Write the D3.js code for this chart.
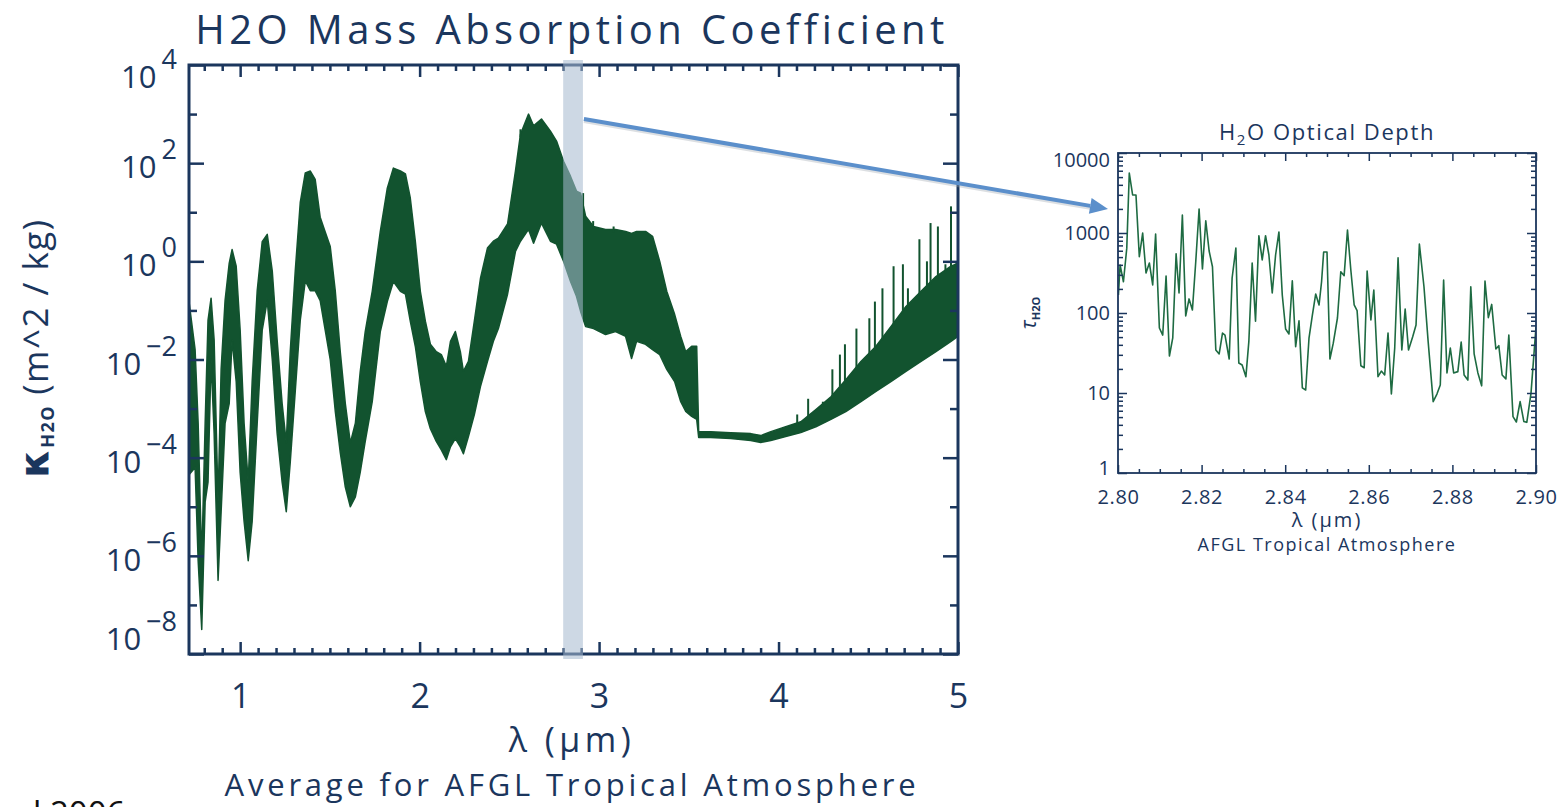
<!DOCTYPE html>
<html>
<head>
<meta charset="utf-8">
<script src="https://cdn.jsdelivr.net/npm/d3@7"></script>
<style>
  body { margin: 0; background: #fff; }
  svg { display: block; }
  text { font-family: "Open Sans", "DejaVu Sans", sans-serif; }
</style>
</head>
<body>
<svg id="chart" width="1566" height="807"></svg>
<script>
const kappaLambda = [0.715, 0.749, 0.766, 0.786, 0.805, 0.821, 0.838, 0.855, 0.877, 0.894, 0.916, 0.939, 0.955, 0.978,
  1.000, 1.022, 1.045, 1.067, 1.095, 1.123, 1.151, 1.179, 1.206, 1.234, 1.257, 1.279, 1.307, 1.335, 1.363, 1.391,
  1.418, 1.446, 1.474, 1.502, 1.530, 1.558, 1.586, 1.614, 1.642, 1.669, 1.697, 1.736, 1.781, 1.820, 1.854, 1.893,
  1.921, 1.948, 1.976, 2.004, 2.032, 2.060, 2.093, 2.121, 2.149, 2.172, 2.199, 2.227, 2.244, 2.272, 2.305, 2.339,
  2.378, 2.411, 2.439, 2.490, 2.534, 2.562, 2.607, 2.635, 2.679, 2.729, 2.763, 2.802, 2.841, 2.874, 2.897, 2.925,
  2.969, 3.036, 3.092, 3.148, 3.181, 3.209, 3.259, 3.298, 3.338, 3.377, 3.421, 3.455, 3.483, 3.516, 3.544, 3.555,
  3.622, 3.734, 3.845, 3.901, 3.957, 4.040, 4.124, 4.208, 4.292, 4.375, 4.459, 4.543, 4.626, 4.710, 4.794, 4.877,
  4.961, 5.000];
const kappaUpperExp = [-0.82, -1.8, -3.3, -6.1, -3.3, -1.2, -0.75, -1.6, -4.9, -2.2, -0.8, -0.04, 0.24, -0.1,
  -1.4, -3.3, -4.5, -2.45, -0.6, 0.4, 0.55, -0.2, -1.6, -2.9, -3.7, -1.85, -0.2, 1.2, 1.8, 1.84,
  1.67, 0.9, 0.6, 0.3, -0.6, -1.85, -2.9, -3.7, -3.3, -2.25, -1.43, -0.61, 0.61, 1.49, 1.9, 1.84,
  1.78, 1.29, 0.41, -0.61, -1.22, -1.69, -1.84, -1.9, -2.14, -1.63, -1.43, -1.84, -2.24, -2.04, -1.22, -0.35,
  0.27, 0.41, 0.47, 0.76, 1.84, 2.59, 3.0, 2.76, 2.9, 2.65, 2.45, 2.04, 1.73, 1.43, 1.39, 0.92,
  0.71, 0.65, 0.65, 0.61, 0.57, 0.61, 0.61, 0.51, 0.0, -0.61, -1.08, -1.53, -1.84, -1.73, -1.73, -3.47,
  -3.47, -3.49, -3.51, -3.55, -3.47, -3.37, -3.27, -3.02, -2.76, -2.41, -2.04, -1.73, -1.33, -0.92, -0.61, -0.31,
  -0.1, -0.04];
const kappaLowerExp = [-4.35, -4.2, -6.1, -7.5, -4.9, -4.5, -2.0, -3.5, -6.5, -5.1, -3.3, -2.9, -1.6, -2.45,
  -4.3, -5.3, -6.1, -5.3, -3.3, -1.4, -0.8, -2.0, -3.5, -4.5, -5.1, -4.1, -2.65, -1.2, -0.4, -0.6,
  -0.6, -0.8, -1.4, -2.0, -3.05, -3.9, -4.6, -5.0, -4.8, -4.3, -3.67, -2.86, -1.43, -0.82, -0.41, -0.61,
  -0.67, -1.22, -1.73, -2.45, -3.06, -3.41, -3.67, -3.84, -4.04, -3.78, -3.61, -3.78, -3.92, -3.57, -3.12, -2.55,
  -2.04, -1.63, -1.37, -0.67, 0.2, 0.41, 0.65, 0.37, 0.78, 0.41, 0.35, 0.0, -0.41, -0.71, -1.02, -1.33,
  -1.37, -1.49, -1.43, -1.53, -1.98, -1.63, -1.69, -1.8, -1.9, -2.2, -2.45, -2.86, -3.06, -3.16, -3.22, -3.59,
  -3.59, -3.61, -3.65, -3.69, -3.65, -3.57, -3.49, -3.37, -3.22, -3.06, -2.86, -2.65, -2.45, -2.24, -2.04, -1.84,
  -1.63, -1.53];
// isolated line spikes sticking out of the band
const spikeLambda = [2.562, 2.911, 2.967, 3.081, 4.104, 4.165, 4.247, 4.300, 4.342, 4.370, 4.434, 4.506, 4.537,
  4.579, 4.641, 4.693, 4.721, 4.785, 4.827, 4.847, 4.888, 4.930, 4.961, 4.992];
const spikeExp = [2.69, 1.39, 0.82, 0.71, -3.12, -2.8, -2.86, -2.2, -1.9, -1.69, -1.37, -1.16, -0.82,
  -0.55, -0.1, -0.06, -0.55, 0.45, 0.0, 0.78, 0.71, -0.06, 1.12, 0.0];
const kappaTickExp = [4, 2, 0, -2, -4, -6, -8];
const lambdaTicks = [1, 2, 3, 4, 5];
const zoomBand = [2.80, 2.91];

// ---- right panel: optical depth 2.80-2.90 um
const tauLambda = [2.8001, 2.8005, 2.8013, 2.8021, 2.8027, 2.8035, 2.8043, 2.8051, 2.8059, 2.8067, 2.8075, 2.8083,
  2.8090, 2.8099, 2.8107, 2.8115, 2.8123, 2.8131, 2.8139, 2.8146, 2.8154, 2.8162, 2.8170, 2.8178, 2.8186, 2.8194,
  2.8202, 2.8210, 2.8218, 2.8226, 2.8234, 2.8242, 2.8250, 2.8256, 2.8266, 2.8273, 2.8282, 2.8289, 2.8297, 2.8306,
  2.8313, 2.8321, 2.8329, 2.8337, 2.8345, 2.8353, 2.8361, 2.8369, 2.8377, 2.8385, 2.8393, 2.8401, 2.8409, 2.8417,
  2.8425, 2.8433, 2.8441, 2.8449, 2.8457, 2.8465, 2.8473, 2.8481, 2.8487, 2.8492, 2.8500, 2.8507, 2.8515, 2.8525,
  2.8533, 2.8541, 2.8549, 2.8557, 2.8565, 2.8572, 2.8581, 2.8589, 2.8596, 2.8605, 2.8612, 2.8622, 2.8630, 2.8638,
  2.8646, 2.8654, 2.8662, 2.8670, 2.8679, 2.8687, 2.8695, 2.8705, 2.8713, 2.8721, 2.8732, 2.8742, 2.8754, 2.8763,
  2.8771, 2.8779, 2.8787, 2.8795, 2.8803, 2.8813, 2.8821, 2.8828, 2.8837, 2.8844, 2.8852, 2.8861, 2.8870, 2.8878,
  2.8886, 2.8894, 2.8904, 2.8911, 2.8919, 2.8928, 2.8935, 2.8945, 2.8953, 2.8962, 2.8971, 2.8978, 2.8988, 2.9000];
const tauValue = [168, 398, 246, 647, 5620, 2985, 2985, 506, 1000, 316, 422, 224,
  972, 65, 53, 290, 29, 49, 548, 178, 1680, 92, 150, 109, 437, 1995,
  355, 1420, 596, 379, 34.5, 30.8, 56, 53, 26.6, 274, 647, 23.7, 22.4, 16,
  43.8, 422, 79, 925, 460, 925, 531, 178, 531, 1030, 168, 63, 54.6, 253,
  37.9, 80, 11.6, 10.9, 49, 94, 173, 126, 246, 579, 579, 26.6, 42, 86.6,
  328, 293, 1090, 345, 126, 107, 21.9, 20.7, 335, 81.7, 194, 16, 18.8, 16.8,
  56, 9.7, 36.5, 491, 34.5, 112, 34.5, 50.6, 70.8, 729, 213, 43.8, 7.8, 9.7,
  12.6, 258, 17.8, 36.5, 17.8, 18.5, 43.4, 16.8, 14.5, 213, 30.8, 17.8, 12.3, 251,
  87.4, 128, 35.5, 39, 16.8, 15, 53, 5.06, 4.34, 7.8, 4.4, 4.3, 9.9, 67];
const tauTicks = [1, 10, 100, 1000, 10000];
const tauLambdaTicks = [2.80, 2.82, 2.84, 2.86, 2.88, 2.90];

const navy = "#1b365d";
const bandGreen = "#12532f";
const svg = d3.select("#chart");

// inward ticks on all four sides of a frame
function frameTicks(g, x, y, xt, yt) {
  const [x0, x1] = x.range(), [y0, y1] = y.range();
  const add = (axis, tf) => g.append("g").attr("transform", tf).attr("color", navy)
    .call(axis.tickFormat(""))
    .call(s => s.select(".domain").remove());
  xt.forEach(t => {
    add(d3.axisBottom(x).tickValues(t.v).tickSize(-t.len).tickSizeOuter(0), `translate(0,${y0})`);
    add(d3.axisTop(x).tickValues(t.v).tickSize(-t.len).tickSizeOuter(0), `translate(0,${y1})`);
  });
  yt.forEach(t => {
    add(d3.axisLeft(y).tickValues(t.v).tickSize(-t.len).tickSizeOuter(0), `translate(${x0},0)`);
    add(d3.axisRight(y).tickValues(t.v).tickSize(-t.len).tickSizeOuter(0), `translate(${x1},0)`);
  });
}

// ================= left panel =================
const x = d3.scaleLinear().domain([0.715, 5]).range([189, 958]);
const y = d3.scaleLog().domain([1e-8, 1e4]).range([654, 65]);
const gL = svg.append("g");

gL.append("clipPath").attr("id", "clipL").append("rect")
  .attr("x", x.range()[0]).attr("y", y.range()[1])
  .attr("width", x.range()[1] - x.range()[0]).attr("height", y.range()[0] - y.range()[1]);

const rows = kappaLambda.map((l, i) => ({ l, hi: kappaUpperExp[i], lo: kappaLowerExp[i] }));
const area = d3.area().x(d => x(d.l)).y0(d => y(10 ** d.lo)).y1(d => y(10 ** d.hi));
const plot = gL.append("g").attr("clip-path", "url(#clipL)");
plot.append("path").datum(rows).attr("d", area)
  .attr("fill", bandGreen).attr("stroke", bandGreen).attr("stroke-width", 1.5).attr("stroke-linejoin", "round");

const upperAt = d3.scaleLinear().domain(kappaLambda).range(kappaUpperExp);
plot.selectAll("line.spike").data(spikeLambda).join("line").attr("class", "spike")
  .attr("x1", d => x(d)).attr("x2", d => x(d))
  .attr("y1", (d, i) => y(10 ** spikeExp[i]))
  .attr("y2", d => y(10 ** upperAt(d)) + 3)
  .attr("stroke", bandGreen).attr("stroke-width", 2);

// frame + ticks
const majorX = lambdaTicks;
const minorX = d3.range(8, 51).map(i => i / 10).filter(v => v >= x.domain()[0] && v % 1 !== 0);
const majorY = kappaTickExp.map(e => 10 ** e);
const minorY = d3.range(-7, 4, 2).map(e => 10 ** e);
frameTicks(gL, x, y, [{ v: minorX, len: 6 }, { v: majorX, len: 12 }], [{ v: minorY, len: 8 }, { v: majorY, len: 15 }]);
gL.selectAll(".tick line").attr("stroke-width", 2.5);
gL.append("rect")
  .attr("x", x.range()[0]).attr("y", y.range()[1])
  .attr("width", x.range()[1] - x.range()[0]).attr("height", y.range()[0] - y.range()[1])
  .attr("fill", "none").attr("stroke", navy).attr("stroke-width", 3);

// shaded zoom band
gL.append("rect")
  .attr("x", x(zoomBand[0])).attr("width", x(zoomBand[1]) - x(zoomBand[0]))
  .attr("y", y.range()[1] - 5).attr("height", y.range()[0] - y.range()[1] + 10)
  .attr("fill", "rgb(166,186,207)").attr("opacity", 0.56);

// x labels
gL.append("g").attr("transform", `translate(0,${y.range()[0]})`)
  .call(d3.axisBottom(x).tickValues(lambdaTicks).tickSize(0).tickPadding(30).tickFormat(d3.format("d")))
  .call(s => s.select(".domain").remove())
  .selectAll("text").attr("font-size", 34).attr("fill", navy).attr("font-family", '"Open Sans", sans-serif');

// y labels 10^n
gL.selectAll("text.ylab").data(kappaTickExp).join("text").attr("class", "ylab")
  .attr("x", 177)
  .attr("y", d => Math.max(88, Math.min(650, y(10 ** d) + 15)))
  .attr("text-anchor", "end").attr("fill", navy).attr("font-size", 31)
  .call(t => {
    t.append("tspan").text("10");
    t.append("tspan").attr("dx", 5).attr("dy", -19).attr("font-size", 27).text(d => d < 0 ? "\u2212" + (-d) : d);
  });

gL.append("text").attr("x", 572).attr("y", 44).attr("text-anchor", "middle")
  .attr("font-size", 40).attr("fill", navy).attr("letter-spacing", 4.4)
  .text("H2O Mass Absorption Coefficient");

gL.append("text").attr("x", 572).attr("y", 752).attr("text-anchor", "middle")
  .attr("font-size", 34).attr("fill", navy).attr("letter-spacing", 4.5)
  .text("λ (μm)");

gL.append("text").attr("x", 572).attr("y", 796).attr("text-anchor", "middle")
  .attr("font-size", 31).attr("fill", navy).attr("letter-spacing", 3.8)
  .text("Average for AFGL Tropical Atmosphere");

const yTitle = gL.append("text").attr("transform", "translate(48,348) rotate(-90)")
  .attr("text-anchor", "middle").attr("font-size", 35).attr("fill", navy).attr("letter-spacing", 1.5);
yTitle.append("tspan").attr("font-weight", "bold").attr("font-size", 40)
  .attr("font-family", '"DejaVu Sans", sans-serif').text("κ");
yTitle.append("tspan").attr("font-weight", "bold").attr("font-size", 18).attr("dy", 6).text("H2O");
yTitle.append("tspan").attr("dy", -6).attr("dx", 10).text("(m^2 / kg)");

// ================= right panel =================
const xR = d3.scaleLinear().domain([2.80, 2.90]).range([1118, 1536]);
const yR = d3.scaleLog().domain([1, 10000]).range([473, 153]);
const gR = svg.append("g");

gR.append("clipPath").attr("id", "clipR").append("rect")
  .attr("x", xR.range()[0]).attr("y", yR.range()[1])
  .attr("width", xR.range()[1] - xR.range()[0]).attr("height", yR.range()[0] - yR.range()[1]);

const line = d3.line().x(d => xR(d[0])).y(d => yR(d[1]));
gR.append("path").datum(tauLambda.map((l, i) => [l, tauValue[i]]))
  .attr("clip-path", "url(#clipR)")
  .attr("d", line).attr("fill", "none").attr("stroke", "#1e6b42").attr("stroke-width", 1.6)
  .attr("stroke-linejoin", "round");

const minorXR = d3.range(0, 21).map(i => 2.8 + i * 0.005).filter((v, i) => i % 4 !== 0);
const minorYR = d3.merge([1, 10, 100, 1000].map(d => d3.range(2, 10).map(k => k * d)));
frameTicks(gR, xR, yR, [{ v: minorXR, len: 4 }, { v: tauLambdaTicks, len: 8 }], [{ v: minorYR, len: 5 }, { v: tauTicks, len: 9 }]);
gR.selectAll(".tick line").attr("stroke-width", 1.5);
gR.append("rect")
  .attr("x", xR.range()[0]).attr("y", yR.range()[1])
  .attr("width", xR.range()[1] - xR.range()[0]).attr("height", yR.range()[0] - yR.range()[1])
  .attr("fill", "none").attr("stroke", navy).attr("stroke-width", 1.8);

gR.append("g").attr("transform", `translate(0,${yR.range()[0]})`)
  .call(d3.axisBottom(xR).tickValues(tauLambdaTicks).tickSize(0).tickPadding(17).tickFormat(d3.format(".2f")))
  .call(s => s.select(".domain").remove())
  .selectAll("text").attr("font-size", 20).attr("fill", navy).attr("letter-spacing", 0.6)
  .attr("font-family", '"Open Sans", sans-serif');

gR.selectAll("text.ylabR").data(tauTicks).join("text").attr("class", "ylabR")
  .attr("x", 1110)
  .attr("y", d => Math.max(167, Math.min(475, yR(d) + 7)))
  .attr("text-anchor", "end").attr("fill", navy).attr("font-size", 20)
  .text(d => d);

const tTitle = gR.append("text").attr("x", 1327).attr("y", 140).attr("text-anchor", "middle")
  .attr("font-size", 22).attr("fill", navy).attr("letter-spacing", 1.6);
tTitle.append("tspan").text("H");
tTitle.append("tspan").attr("font-size", 15).attr("dy", 5).text("2");
tTitle.append("tspan").attr("dy", -5).text("O Optical Depth");

gR.append("text").attr("x", 1327).attr("y", 527).attr("text-anchor", "middle")
  .attr("font-size", 20).attr("fill", navy).attr("letter-spacing", 2).text("λ (μm)");

gR.append("text").attr("x", 1327).attr("y", 551).attr("text-anchor", "middle")
  .attr("font-size", 18).attr("fill", navy).attr("letter-spacing", 1.5).text("AFGL Tropical Atmosphere");

const yTitleR = gR.append("text").attr("transform", "translate(1036,313) rotate(-90)")
  .attr("text-anchor", "middle").attr("font-size", 21).attr("fill", navy);
yTitleR.append("tspan").attr("font-style", "italic").text("τ");
yTitleR.append("tspan").attr("font-size", 11).attr("font-weight", "bold").attr("dy", 4).text("H2O");

// ================= connecting arrow =================
const a0 = [x(zoomBand[1]) + 1, y(10 ** 2.9)];
const a1 = [xR(2.80) - 10, yR(2000)];
const ang = Math.atan2(a1[1] - a0[1], a1[0] - a0[0]);
const headLen = 18, headW = 8;
const base = [a1[0] - headLen * Math.cos(ang), a1[1] - headLen * Math.sin(ang)];
svg.append("line")
  .attr("x1", a0[0]).attr("y1", a0[1] + 2).attr("x2", base[0]).attr("y2", base[1] + 2)
  .attr("stroke", "#9aa3ad").attr("stroke-opacity", 0.35).attr("stroke-width", 4);
svg.append("line")
  .attr("x1", a0[0]).attr("y1", a0[1]).attr("x2", base[0]).attr("y2", base[1])
  .attr("stroke", "#5b8fcb").attr("stroke-width", 4);
svg.append("path")
  .attr("d", d3.line()([
    a1,
    [base[0] + headW * Math.sin(ang), base[1] - headW * Math.cos(ang)],
    [base[0] - headW * Math.sin(ang), base[1] + headW * Math.cos(ang)]
  ]) + "Z")
  .attr("fill", "#5b8fcb");

// clipped caption at the lower-left corner
svg.append("text").attr("x", 33).attr("y", 825).attr("font-size", 33).attr("fill", "#111").text("l 2006");
</script>
</body>
</html>
